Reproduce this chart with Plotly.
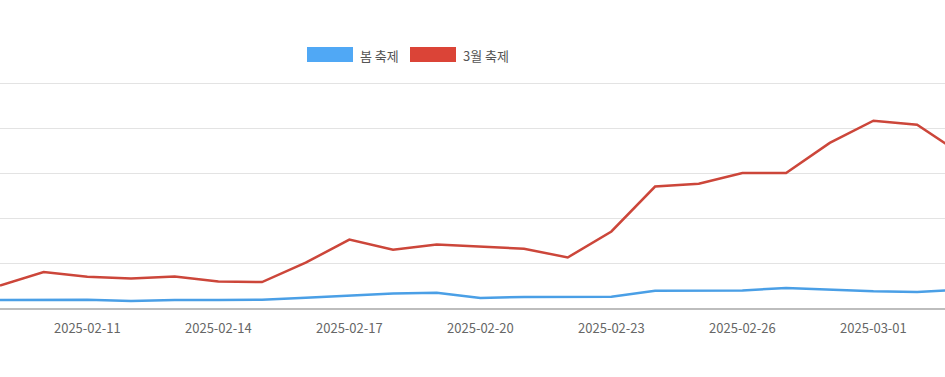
import plotly.graph_objects as go

dates = ["2025-02-09", "2025-02-10", "2025-02-11", "2025-02-12", "2025-02-13", "2025-02-14",
         "2025-02-15", "2025-02-16", "2025-02-17", "2025-02-18", "2025-02-19", "2025-02-20",
         "2025-02-21", "2025-02-22", "2025-02-23", "2025-02-24", "2025-02-25", "2025-02-26",
         "2025-02-27", "2025-02-28", "2025-03-01", "2025-03-02", "2025-03-03"]
spring_festival = [4.0, 4.0, 4.1, 3.5, 4.0, 4.0, 4.1, 5.0, 5.8, 6.9, 7.2, 4.9,
                   5.3, 5.4, 5.4, 8.1, 8.1, 8.2, 9.3, 8.4, 7.8, 7.5, 8.5]
march_festival = [10.4, 16.4, 14.3, 13.5, 14.4, 12.2, 11.9, 20.5, 30.7, 26.2, 28.5, 27.7,
                  26.7, 22.8, 34.3, 54.2, 55.4, 60.2, 60.2, 73.5, 83.3, 81.5, 68.7]
series_names = ["봄 축제", "3월 축제"]
tick_dates = ["2025-02-11", "2025-02-14", "2025-02-17", "2025-02-20",
              "2025-02-23", "2025-02-26", "2025-03-01"]

BLUE_LINE, BLUE_BOX = "#4A9FE6", "#50A8F5"
RED_LINE, RED_BOX = "#CC463A", "#DB4437"
FONT = "Noto Sans CJK KR, Noto Sans, sans-serif"

W, H = 945, 377
MT, MB = 80, 68
PH = H - MT - MB


def px_x(x):
    return x / W


def px_y(y):
    return (H - MB - y) / PH


fig = go.Figure()
fig.add_trace(go.Scatter(x=dates, y=spring_festival, mode="lines", name=series_names[0],
                         line=dict(color=BLUE_LINE, width=2.5), showlegend=False))
fig.add_trace(go.Scatter(x=dates, y=march_festival, mode="lines", name=series_names[1],
                         line=dict(color=RED_LINE, width=2.5), showlegend=False))

# manual legend (boxes + labels)
for (x0, x1, col) in [(307, 353, BLUE_BOX), (410, 456, RED_BOX)]:
    fig.add_shape(type="rect", xref="paper", yref="paper", x0=px_x(x0), x1=px_x(x1),
                  y0=px_y(62), y1=px_y(47), fillcolor=col, line=dict(width=0))
for (x, name) in [(358, series_names[0]), (461, series_names[1])]:
    fig.add_annotation(xref="paper", yref="paper", x=px_x(x), y=px_y(55),
                       text=name, showarrow=False, xanchor="left", yanchor="middle",
                       font=dict(family=FONT, size=13, color="#555555"))

fig.update_layout(
    width=W, height=H,
    margin=dict(l=0, r=0, t=MT, b=MB),
    paper_bgcolor="white", plot_bgcolor="white",
    font=dict(family=FONT, color="#666666"),
    xaxis=dict(range=["2025-02-09 00:00", "2025-03-02 15:20"], tickvals=tick_dates,
               ticktext=tick_dates, showgrid=False, zeroline=False,
               showline=False, ticks="", ticklabelstandoff=10,
               tickfont=dict(size=13, color="#666666")),
    yaxis=dict(range=[0, PH / 2.26], tickvals=[0, 20, 40, 60, 80, 100], showgrid=True,
               gridcolor="#E3E3E3", gridwidth=1,
               showticklabels=False, zeroline=True, zerolinecolor="#BDBDBD", zerolinewidth=1.5,
               showline=False, ticks=""),
)
fig.write_html("out.html", config={"displayModeBar": False})

with open("out.html", encoding="utf-8") as f:
    html = f.read()
html = html.replace("<body>", '<body style="margin:0;padding:0;overflow:hidden">', 1)
with open("out.html", "w", encoding="utf-8") as f:
    f.write(html)
